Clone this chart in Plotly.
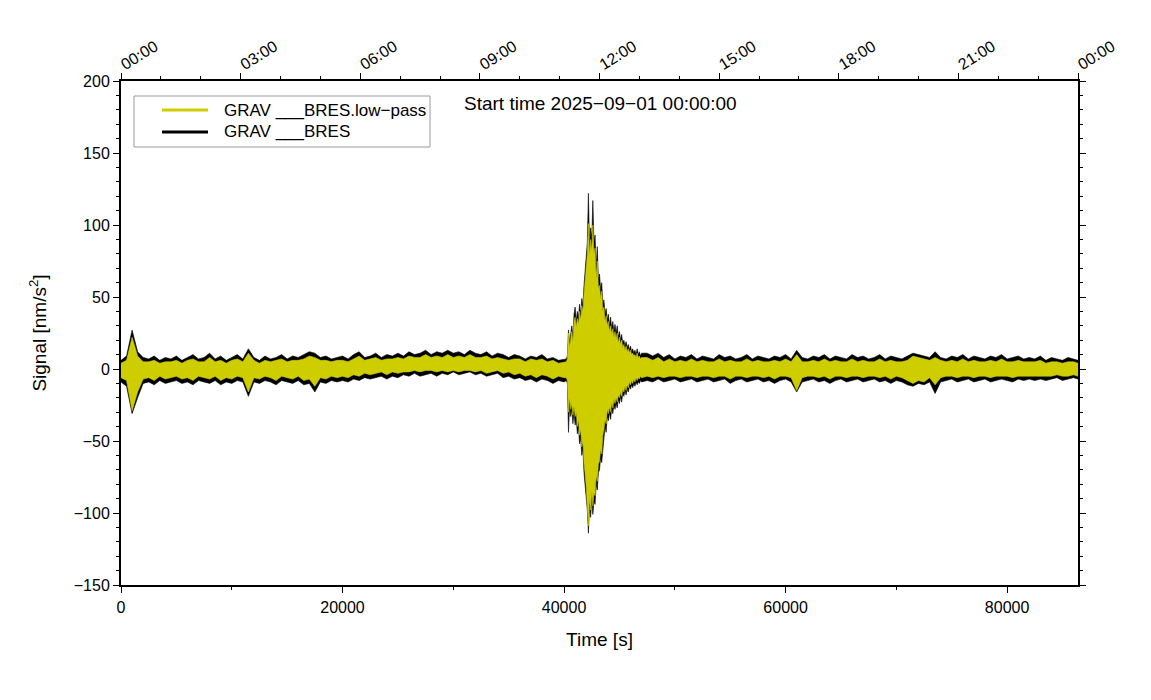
import plotly.graph_objects as go

# ---------------- data ----------------
# sample times [s]: quiet part before the event, the event, quiet part after it
t_before = list(range(0, 40001, 500))
t_event = list(range(40200, 47001, 100))
t_after = list(range(47500, 86001, 500)) + [86400]

# envelope of the raw trace GRAV ___BRES [nm/s^2]
raw_up_before = [6, 9, 27, 12, 8, 7, 9, 6, 8, 7,
                 9, 6, 8, 10, 7, 8, 11, 7, 9, 6,
                 8, 10, 7, 14, 8, 6, 9, 7, 8, 10,
                 7, 9, 8, 10, 12, 11, 8, 9, 7, 8,
                 9, 7, 10, 12, 8, 9, 11, 8, 10, 9,
                 11, 9, 12, 10, 11, 13, 10, 12, 11, 13,
                 11, 12, 10, 13, 11, 10, 12, 9, 11, 10,
                 8, 10, 9, 7, 9, 8, 10, 7, 8, 6, 7]
raw_lo_before = [-9, -12, -31, -20, -10, -9, -11, -8, -10, -9,
                 -8, -10, -9, -11, -8, -9, -10, -8, -11, -9,
                 -10, -8, -9, -19, -9, -10, -8, -9, -11, -8,
                 -9, -10, -8, -11, -10, -16, -9, -10, -8, -9,
                 -8, -9, -7, -8, -6, -7, -6, -5, -7, -5,
                 -6, -4, -5, -3, -5, -4, -3, -5, -3, -4,
                 -2, -4, -3, -2, -4, -3, -5, -4, -3, -6,
                 -5, -7, -6, -8, -7, -9, -7, -8, -10, -8, -9]
raw_up_event = [7, 9, 27, 18, 24, 30, 22, 38, 43, 33,
                40, 35, 45, 38, 49, 44, 58, 67, 75, 88,
                122, 85, 98, 90, 117, 88, 93, 70, 85, 62,
                66, 55, 60, 45, 48, 38, 42, 34, 38, 30,
                36, 28, 33, 26, 31, 25, 30, 22, 26, 20,
                24, 18, 20, 16, 19, 15, 17, 13, 16, 12,
                14, 11, 13, 10, 14, 10, 12, 9, 11]
raw_lo_event = [-8, -10, -44, -25, -33, -28, -38, -30, -39, -35,
                -45, -40, -52, -48, -60, -55, -72, -80, -88, -98,
                -114, -95, -103, -90, -101, -92, -94, -80, -84, -72,
                -70, -62, -65, -52, -48, -40, -44, -33, -36, -30,
                -35, -27, -31, -25, -28, -24, -27, -21, -24, -19,
                -23, -17, -19, -15, -18, -14, -16, -12, -14, -11,
                -13, -10, -12, -9, -11, -9, -10, -8, -9]
raw_up_after = [11, 9, 11, 8, 10, 7, 9, 8, 10, 7,
                9, 8, 7, 10, 8, 9, 7, 8, 10, 7,
                9, 8, 7, 9, 8, 10, 7, 13, 8, 7,
                9, 8, 10, 7, 9, 8, 7, 10, 8, 9,
                7, 8, 10, 7, 9, 8, 7, 9, 11, 10,
                9, 8, 12, 8, 7, 9, 8, 10, 7, 9,
                8, 7, 9, 8, 10, 7, 8, 9, 7, 8,
                7, 9, 6, 8, 7, 6, 8, 7, 6]
raw_lo_after = [-8, -9, -7, -9, -8, -7, -9, -8, -7, -9,
                -8, -7, -9, -8, -7, -10, -8, -7, -9, -8,
                -7, -9, -8, -10, -8, -7, -9, -16, -9, -8,
                -7, -9, -8, -10, -8, -7, -9, -8, -7, -9,
                -8, -7, -9, -8, -10, -8, -9, -11, -12, -10,
                -11, -9, -17, -9, -8, -7, -9, -8, -7, -9,
                -8, -7, -9, -8, -7, -8, -9, -7, -8, -7,
                -8, -7, -8, -7, -6, -8, -7, -6, -7]

# envelope of the low-pass trace GRAV ___BRES.low-pass [nm/s^2]
lp_up_before = [4, 6, 22, 9, 5, 5, 6, 4, 5, 5,
                6, 4, 6, 7, 5, 5, 8, 5, 6, 4,
                6, 7, 5, 11, 6, 4, 6, 5, 6, 7,
                5, 6, 6, 7, 9, 8, 6, 6, 5, 6,
                6, 5, 7, 9, 6, 7, 8, 6, 7, 7,
                8, 7, 9, 8, 8, 10, 8, 9, 8, 10,
                8, 9, 8, 10, 8, 8, 9, 7, 8, 7,
                6, 7, 7, 5, 7, 6, 7, 5, 6, 4, 5]
lp_lo_before = [-6, -8, -29, -16, -7, -6, -8, -5, -7, -6,
                -5, -7, -6, -8, -5, -6, -7, -5, -8, -6,
                -7, -5, -6, -16, -6, -7, -5, -6, -8, -5,
                -6, -7, -5, -8, -7, -12, -6, -7, -5, -6,
                -5, -6, -4, -5, -3, -4, -3, -2, -4, -2,
                -3, -2, -2, -1, -2, -1, -1, -2, -1, -2,
                -1, -2, -1, -1, -2, -1, -3, -2, -1, -3,
                -2, -4, -3, -5, -4, -6, -4, -5, -7, -5, -6]
lp_up_event = [5, 7, 25, 15, 20, 26, 19, 33, 36, 29,
               35, 31, 40, 34, 44, 40, 52, 60, 68, 80,
               101, 78, 90, 82, 100, 80, 84, 63, 75, 56,
               58, 49, 54, 40, 43, 33, 37, 30, 33, 26,
               30, 24, 28, 22, 26, 21, 25, 18, 22, 17,
               20, 15, 17, 13, 16, 12, 14, 11, 13, 10,
               11, 9, 10, 8, 11, 8, 9, 7, 8]
lp_lo_event = [-6, -8, -30, -20, -28, -24, -32, -26, -33, -30,
               -40, -35, -46, -42, -54, -50, -65, -73, -82, -92,
               -109, -90, -98, -85, -95, -86, -88, -74, -78, -66,
               -64, -56, -59, -46, -42, -35, -38, -28, -31, -26,
               -30, -23, -27, -21, -24, -20, -23, -18, -20, -16,
               -19, -14, -16, -12, -15, -11, -13, -9, -11, -8,
               -10, -7, -9, -6, -8, -6, -7, -5, -6]
lp_up_after = [8, 6, 8, 5, 7, 5, 6, 5, 7, 5,
               6, 5, 5, 7, 5, 6, 5, 5, 7, 5,
               6, 5, 5, 6, 5, 7, 5, 10, 5, 5,
               6, 5, 7, 5, 6, 5, 5, 7, 5, 6,
               5, 5, 7, 5, 6, 5, 5, 6, 9, 8,
               7, 6, 8, 6, 5, 6, 5, 7, 5, 6,
               5, 5, 6, 5, 7, 5, 5, 6, 5, 5,
               5, 6, 4, 5, 5, 4, 5, 5, 4]
lp_lo_after = [-5, -6, -5, -6, -5, -5, -6, -5, -5, -6,
               -5, -5, -6, -5, -5, -7, -5, -5, -6, -5,
               -5, -6, -5, -7, -5, -5, -6, -15, -6, -5,
               -5, -6, -5, -7, -5, -5, -6, -5, -5, -6,
               -5, -5, -6, -5, -7, -5, -6, -8, -10, -8,
               -9, -6, -11, -6, -5, -5, -6, -5, -5, -6,
               -5, -5, -6, -5, -5, -5, -6, -5, -5, -5,
               -5, -5, -5, -5, -4, -5, -5, -4, -5]

hour_ticks = [0, 10800, 21600, 32400, 43200, 54000, 64800, 75600, 86400]
hour_labels = ["00:00", "03:00", "06:00", "09:00", "12:00", "15:00", "18:00", "21:00", "00:00"]
legend_names = ["GRAV ___BRES.low\u2212pass", "GRAV ___BRES"]

YELLOW = "#cdcd00"
FONT = "Liberation Sans, Arial, sans-serif"

t_all = t_before + t_event + t_after
raw_up = raw_up_before + raw_up_event + raw_up_after
raw_lo = raw_lo_before + raw_lo_event + raw_lo_after
lp_up = lp_up_before + lp_up_event + lp_up_after
lp_lo = lp_lo_before + lp_lo_event + lp_lo_after
for arr in (raw_up, raw_lo, lp_up, lp_lo):
    assert len(arr) == len(t_all), (len(arr), len(t_all))


def band(t, up, lo):
    return list(t) + list(t)[::-1], list(up) + list(lo)[::-1]


fig = go.Figure()
bx, by = band(t_all, raw_up, raw_lo)
fig.add_trace(go.Scatter(x=bx, y=by, mode="lines", fill="toself", fillcolor="black",
                         line=dict(color="black", width=0.6), name=legend_names[1],
                         showlegend=False, hoverinfo="skip"))
yx, yy = band(t_all, lp_up, lp_lo)
fig.add_trace(go.Scatter(x=yx, y=yy, mode="lines", fill="toself", fillcolor=YELLOW,
                         line=dict(color=YELLOW, width=0.6), name=legend_names[0],
                         showlegend=False, hoverinfo="skip"))
# invisible trace to activate the top time axis
fig.add_trace(go.Scatter(x=[0, 86400], y=[None, None], xaxis="x2", yaxis="y",
                         mode="lines", showlegend=False, hoverinfo="skip"))

# legend drawn in paper coordinates (plot area: x 121..1078, y 81..585 px)
def px(x):
    return (x - 121) / 957.0


def py(y):
    return 1 - (y - 81) / 504.0


shapes = [
    dict(type="rect", xref="paper", yref="paper", x0=px(134), x1=px(430), y0=py(147), y1=py(96),
         line=dict(color="#9a9a9a", width=1), fillcolor="white", layer="above"),
    dict(type="line", xref="paper", yref="paper", x0=px(162), x1=px(208), y0=py(110), y1=py(110),
         line=dict(color=YELLOW, width=3), layer="above"),
    dict(type="line", xref="paper", yref="paper", x0=px(162), x1=px(208), y0=py(132), y1=py(132),
         line=dict(color="black", width=3), layer="above"),
    dict(type="line", xref="paper", yref="y", x0=0, x1=1, y0=0, y1=0,
         line=dict(color="black", width=0.5), layer="below"),
]
annotations = [
    dict(text=legend_names[0], xref="paper", yref="paper", x=px(222), y=py(110),
         xanchor="left", yanchor="middle", showarrow=False, font=dict(size=17, family=FONT)),
    dict(text=legend_names[1], xref="paper", yref="paper", x=px(222), y=py(132),
         xanchor="left", yanchor="middle", showarrow=False, font=dict(size=17, family=FONT)),
    dict(text="Start time 2025\u221209\u221201 00:00:00", xref="paper", yref="paper",
         x=px(600), y=py(104), xanchor="center", yanchor="middle", showarrow=False,
         font=dict(size=19, family=FONT)),
]

fig.update_layout(
    width=1135, height=684,
    margin=dict(l=113, r=65, t=73, b=107),
    paper_bgcolor="white", plot_bgcolor="white",
    font=dict(family=FONT, size=16, color="black"),
    showlegend=False,
    shapes=shapes, annotations=annotations,
    xaxis=dict(range=[0, 86400], showgrid=False, zeroline=False,
               showline=True, linecolor="black", linewidth=2,
               ticks="outside", ticklen=6, tickwidth=1, tickcolor="black",
               tickmode="array", tickvals=[0, 20000, 40000, 60000, 80000],
               ticktext=["0", "20000", "40000", "60000", "80000"],
               ticklabelstandoff=1,
               minor=dict(tickmode="array", tickvals=[10000, 30000, 50000, 70000],
                          ticks="outside", ticklen=3, tickcolor="black"),
               tickfont=dict(size=16),
               title=dict(text="Time [s]", font=dict(size=19), standoff=17)),
    xaxis2=dict(range=[0, 86400], overlaying="x", side="top", showgrid=False,
                zeroline=False, showline=True, linecolor="black", linewidth=2,
                ticks="outside", ticklen=6, tickwidth=1, tickcolor="black",
                tickmode="array", tickvals=hour_ticks, ticktext=hour_labels,
                tickangle=-32, tickfont=dict(size=16), ticklabelstandoff=-5,
                minor=dict(tickmode="linear", tick0=0, dtick=3600, ticks="outside",
                           ticklen=3, tickcolor="black")),
    yaxis=dict(range=[-150, 200], showgrid=False, zeroline=False,
               showline=True, linecolor="black", linewidth=2, mirror="ticks",
               ticks="outside", ticklen=6, tickwidth=1, tickcolor="black",
               tickmode="linear", tick0=-150, dtick=50,
               minor=dict(tickmode="linear", tick0=-150, dtick=10, ticks="outside",
                          ticklen=3, tickcolor="black"),
               tickfont=dict(size=16),
               title=dict(text="Signal [nm/s<sup>2</sup>]", font=dict(size=19), standoff=22)),
)

fig.write_html("out.html")
